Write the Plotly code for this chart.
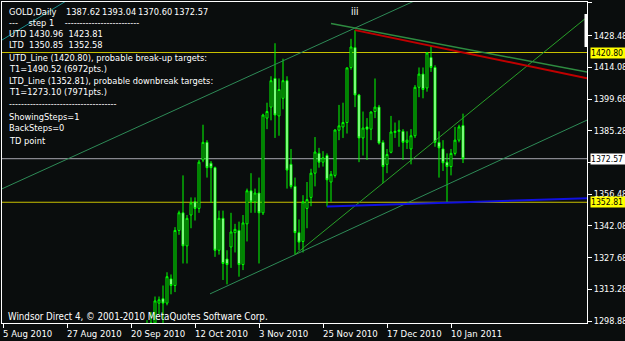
import numpy as np
import pandas as pd
import plotly.graph_objects as go

# ---------------- data ----------------
dates = pd.bdate_range("2010-09-24", "2011-01-13").strftime("%Y-%m-%d").tolist()

opens = [1296, 1297, 1298, 1307, 1309, 1307, 1318, 1315, 1340, 1348,
         1333, 1347, 1353, 1350, 1372, 1380, 1370.5, 1368.5, 1331, 1345.5,
         1327, 1332.5, 1339, 1340, 1324.5, 1343, 1358, 1353, 1357, 1348,
         1391, 1396, 1409, 1392, 1400, 1408, 1370, 1360, 1339, 1335,
         1350, 1355, 1366, 1375, 1371, 1374, 1362, 1365, 1385.5, 1387,
         1389, 1414, 1423, 1401.5, 1382, 1387, 1386, 1394, 1396, 1380,
         1370, 1375.5, 1384.5, 1385, 1385, 1380, 1377, 1383, 1405, 1411,
         1404.7, 1418.5, 1414, 1380, 1377, 1371, 1369, 1375, 1381, 1387.62]
highs = [1299.3, 1303, 1310, 1310, 1315, 1321, 1320, 1341.5, 1349, 1365,
         1347, 1355, 1355, 1372, 1388, 1381, 1371.5, 1369, 1349, 1349,
         1331, 1348, 1343, 1344, 1347, 1359, 1366, 1359, 1364, 1393,
         1398, 1410, 1425, 1409, 1418, 1410, 1377, 1364, 1345, 1356,
         1362, 1368, 1382.4, 1377.5, 1376, 1375, 1367, 1386, 1397, 1398,
         1414, 1427, 1430.96, 1402, 1394, 1391, 1394, 1409, 1397, 1381,
         1377, 1392, 1389, 1390, 1386, 1385, 1386, 1406, 1414, 1414,
         1421, 1423.81, 1415, 1385, 1381, 1375, 1377, 1387, 1388, 1393.04]
lows = [1290, 1291, 1287, 1302, 1296, 1306, 1311, 1312, 1338, 1325,
        1325, 1341, 1344.5, 1348, 1371, 1364, 1352.5, 1328, 1329, 1317.5,
        1315.5, 1323, 1330, 1319, 1322, 1335, 1348, 1348, 1325, 1347,
        1386, 1390, 1382, 1383, 1395, 1359, 1359, 1329, 1331, 1330,
        1341, 1351, 1360, 1368.5, 1369, 1350.85, 1353, 1364, 1381, 1382,
        1384, 1413, 1396, 1371, 1374, 1372, 1381, 1391, 1379, 1361.5,
        1366, 1375, 1382, 1378, 1372, 1377, 1370, 1382, 1400.5, 1400,
        1403, 1412, 1378, 1364, 1367, 1352.58, 1365, 1374, 1380, 1370.60]
closes = [1297, 1298, 1308, 1308.5, 1307, 1319, 1315, 1340, 1348, 1333,
          1345.5, 1352.5, 1350, 1371, 1380, 1368.5, 1368.5, 1331, 1345.5, 1325,
          1324.5, 1339.3, 1340.5, 1324.5, 1343.4, 1358, 1353, 1357, 1348, 1392.4,
          1394, 1408, 1392.4, 1404, 1408, 1367.4, 1360, 1339, 1334.7, 1353,
          1354, 1366, 1375.6, 1371, 1373, 1363, 1365.5, 1385.6, 1387.5, 1389,
          1413.8, 1423.3, 1401.5, 1382, 1386.5, 1386, 1393.8, 1396, 1379.7, 1369,
          1374.5, 1384.7, 1385, 1385.5, 1380, 1381, 1383, 1405, 1411, 1404,
          1420.6, 1414, 1380, 1377.5, 1370.7, 1369, 1375, 1381, 1387, 1372.57]

tick_dates = ["2010-08-05", "2010-08-27", "2010-09-20", "2010-10-12",
              "2010-11-03", "2010-11-25", "2010-12-17", "2011-01-10"]
tick_labels = ["5 Aug 2010", "27 Aug 2010", "20 Sep 2010", "12 Oct 2010",
               "3 Nov 2010", "25 Nov 2010", "17 Dec 2010", "10 Jan 2011"]

price_ticks = [1298.88, 1313.28, 1327.68, 1342.08, 1356.48, 1370.88,
               1385.28, 1399.68, 1414.08, 1428.48, 1443.28]
hidden_ticks = [1370.88]   # label covered by the bid price box

# trend lines: two anchor points each (date, price)
utd_dates, utd_prices = ["2010-12-07", "2011-01-03"], [1430.96, 1423.81]
ltd_dates, ltd_prices = ["2010-11-26", "2011-01-07"], [1350.85, 1352.58]
support_dates, support_prices = ["2010-11-16", "2010-12-16"], [1329.0, 1361.5]
chan_up_dates, chan_up_prices = ["2010-08-05", "2010-11-25"], [1359.1, 1425.3]
chan_lo_dates, chan_lo_prices = ["2010-10-18", "2011-01-07"], [1311.4, 1360.8]
res_green_dates, res_green_prices = ["2010-11-29", "2011-01-13"], [1434.0, 1422.6]
teal_dates, teal_prices = ["2010-08-05", "2010-08-19"], [1426.75, 1437.8]

bid_level = 1372.57
utd_level = 1420.80
ltd_level = 1352.81

header_name = "GOLD,Daily"
header_ohlc = ["1387.62", "1393.04", "1370.60", "1372.57"]
header_x_px = [7, 64, 100, 136, 172]

info_lines = [
    "---    step 1    -------------------------",
    "UTD 1430.96  1423.81",
    "LTD  1350.85  1352.58",
    "UTD_Line (1420.80), probable break-up targets:",
    "T1=1490.52 (6972pts.)",
    "LTD_Line (1352.81), probable downbreak targets:",
    "T1=1273.10 (7971pts.)",
    "------------------------------------",
    "ShowingSteps=1",
    "BackSteps=0",
    "TD point",
]
header_row_px = 11
info_rows_px = [22, 33, 44, 57, 68, 80, 91, 103, 116, 127, 140]

# ---------------- geometry helpers ----------------
BASE = "2010-08-05"
def idx(d):
    return int(np.busday_count(BASE, d))

X_MIN, X_MAX = -0.25, 146
Y_MIN, Y_MAX = 1297.97, 1443.73
W, H = 625, 341
L, R, T, B = 2, 38, 2, 18
PW, PH = W - L - R, H - T - B

def px(X):
    return (X - L) / PW

def py(Y):
    return (H - B - Y) / PH

x = [idx(d) for d in dates]

def ext_line(ds, ps, x0, x1):
    a, b = idx(ds[0]), idx(ds[1])
    s = (ps[1] - ps[0]) / (b - a)
    return [x0, x1], [ps[0] + s * (x0 - a), ps[0] + s * (x1 - a)]

FONT = "DejaVu Sans Condensed, DejaVu Sans, sans-serif"
BG = "#0a0d0d"
INFO_SIZE = 9.2

fig = go.Figure()

def add_line(xs, ys, color, width):
    fig.add_trace(go.Scatter(x=xs, y=ys, mode="lines",
                             line=dict(color=color, width=width),
                             hoverinfo="skip", showlegend=False))

# channel / trend lines
add_line(*ext_line(teal_dates, teal_prices, X_MIN, X_MAX), "#1a9090", 1)
add_line(*ext_line(chan_up_dates, chan_up_prices, X_MIN, X_MAX), "#2e8b57", 1)
add_line(*ext_line(chan_lo_dates, chan_lo_prices, idx(chan_lo_dates[0]) - 0.25, X_MAX), "#2e8b57", 1)
add_line(*ext_line(support_dates, support_prices, idx(support_dates[0]), X_MAX), "#28a028", 1)
add_line(*ext_line(res_green_dates, res_green_prices, idx(res_green_dates[0]), X_MAX), "#2e8b40", 1.5)
add_line(*ext_line(utd_dates, utd_prices, idx(utd_dates[0]), X_MAX), "#c00000", 2)
add_line(*ext_line(ltd_dates, ltd_prices, idx(ltd_dates[0]), X_MAX), "#1010e0", 2)

fig.add_trace(go.Candlestick(
    x=x, open=opens, high=highs, low=lows, close=closes,
    increasing=dict(line=dict(color="#00ff00", width=1), fillcolor="#000000"),
    decreasing=dict(line=dict(color="#00ff00", width=1), fillcolor="#ffffff"),
    whiskerwidth=0, showlegend=False, hoverinfo="skip"))

shapes = []
for lvl, col, wd in [(bid_level, "#a8a8b0", 1), (utd_level, "#c8c000", 1.2), (ltd_level, "#c8c000", 1.2)]:
    shapes.append(dict(type="line", xref="paper", x0=0, x1=1, yref="y", y0=lvl, y1=lvl,
                       line=dict(color=col, width=wd), layer="below"))
# small white marker at right edge
shapes.append(dict(type="rect", xref="paper", yref="paper", x0=px(584.5), x1=px(587.5),
                   y0=py(47), y1=py(14), fillcolor="#ffffff", line=dict(width=0)))

annotations = []
for txt, xp in zip([header_name] + header_ohlc, header_x_px):
    annotations.append(dict(text=txt, xref="paper", yref="paper", x=px(xp), y=py(header_row_px),
                            xanchor="left", yanchor="middle", showarrow=False,
                            font=dict(family=FONT, size=INFO_SIZE, color="#ffffff")))
for txt, row in zip(info_lines, info_rows_px):
    annotations.append(dict(text=txt.replace(" ", "\u00a0"), xref="paper", yref="paper",
                            x=px(7), y=py(row),
                            xanchor="left", yanchor="middle", showarrow=False,
                            font=dict(family=FONT, size=INFO_SIZE, color="#ffffff")))
annotations.append(dict(text="Windsor Direct 4, © 2001-2010 MetaQuotes Software Corp.",
                        xref="paper", yref="paper", x=px(6), y=py(316),
                        xanchor="left", yanchor="middle", showarrow=False,
                        font=dict(family=FONT, size=9.7, color="#ffffff")))
annotations.append(dict(text="iii", x=idx("2010-12-07"), y=1439.2, xref="x", yref="y",
                        showarrow=False, font=dict(family=FONT, size=10, color="#ffffff")))
for d, lab in zip(tick_dates, tick_labels):
    annotations.append(dict(text=lab, x=idx(d), xref="x", yref="paper", y=py(333),
                            xanchor="left", yanchor="middle", xshift=-2, showarrow=False,
                            font=dict(family=FONT, size=9.5, color="#ffffff")))
for lvl, bg in [(bid_level, "#ffffff"), (utd_level, "#ffff00"), (ltd_level, "#ffff00")]:
    annotations.append(dict(text=f"{lvl:.2f}", xref="paper", yref="y", x=1, y=lvl,
                            xanchor="left", yanchor="middle", xshift=3, showarrow=False,
                            bgcolor=bg, borderpad=0, width=34, align="left",
                            font=dict(family=FONT, size=8.6, color="#000000")))

fig.update_layout(
    width=W, height=H, margin=dict(l=L, r=R, t=T, b=B, autoexpand=False),
    paper_bgcolor=BG, plot_bgcolor=BG,
    shapes=shapes, annotations=annotations, showlegend=False,
    xaxis=dict(range=[X_MIN, X_MAX], tickvals=[idx(d) for d in tick_dates],
               showticklabels=False, ticks="outside", ticklen=4, tickcolor="#ffffff",
               showgrid=False, zeroline=False, showline=True, linecolor="#ffffff",
               linewidth=1, mirror=True, rangeslider=dict(visible=False),
               fixedrange=True, automargin=False),
    yaxis=dict(range=[Y_MIN, Y_MAX], side="right", tickvals=price_ticks,
               ticktext=["" if v in hidden_ticks else f"{v:.2f}" for v in price_ticks],
               ticks="outside", ticklen=4, tickcolor="#ffffff", ticklabelstandoff=0,
               tickfont=dict(family=FONT, size=9, color="#ffffff"),
               showgrid=False, zeroline=False, showline=True, linecolor="#ffffff",
               linewidth=1, mirror=True, fixedrange=True, automargin=False),
)

fig.write_html("out.html")
